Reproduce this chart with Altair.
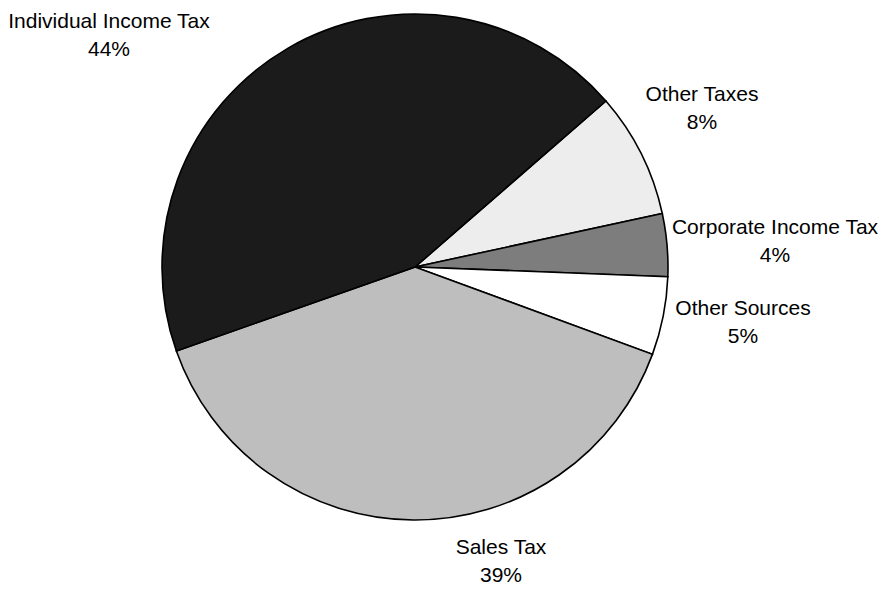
import altair as alt
import pandas as pd
import math

# Slice data (clockwise from the top-right boundary)
categories = ["Other Taxes", "Corporate Income Tax", "Other Sources", "Sales Tax", "Individual Income Tax"]
shares = [8, 4, 5, 39, 44]
fills = ["#ededed", "#7d7d7d", "#ffffff", "#bebebe", "#1b1b1b"]

# Label texts
label_names = ["Individual Income Tax", "Other Taxes", "Corporate Income Tax", "Other Sources", "Sales Tax"]
label_pcts = ["44%", "8%", "4%", "5%", "39%"]
# label anchor (centre x, first baseline y) in chart pixels
label_x = [101, 694, 767, 735, 493]
label_y = [20, 93, 226, 307, 546]

W, H = 873, 581
CX, CY, R = 407, 259, 253
start = math.radians(49)

pie_df = pd.DataFrame({"cat": categories, "value": shares, "idx": list(range(len(categories)))})
lab_df = pd.DataFrame({
    "text": [f"{n}\n{p}" for n, p in zip(label_names, label_pcts)],
    "lx": label_x,
    "ly": label_y,
})

pie = alt.Chart(pie_df).mark_arc(radius=R, stroke="black", strokeWidth=1.6).encode(
    theta=alt.Theta("value:Q", stack=True, scale=alt.Scale(range=[start, start + 2 * math.pi])),
    color=alt.Color("cat:N", scale=alt.Scale(domain=categories, range=fills), legend=None),
    order=alt.Order("idx:Q"),
    x=alt.value(CX),
    y=alt.value(CY),
)

labels = alt.Chart(lab_df).mark_text(
    font="Liberation Sans", fontSize=21, color="black", align="center",
    baseline="alphabetic", lineBreak="\n", lineHeight=28,
).encode(
    x=alt.X("lx:Q", scale=alt.Scale(domain=[0, W], range=[0, W]), axis=None),
    y=alt.Y("ly:Q", scale=alt.Scale(domain=[0, H], range=[0, H]), axis=None),
    text="text:N",
)

chart = alt.layer(pie, labels).properties(
    width=W, height=H, autosize=alt.AutoSizeParams(type="none"), padding=0,
    background="white",
).configure_view(stroke=None)

chart.save("out.html", embed_options={"renderer": "svg", "actions": False})
